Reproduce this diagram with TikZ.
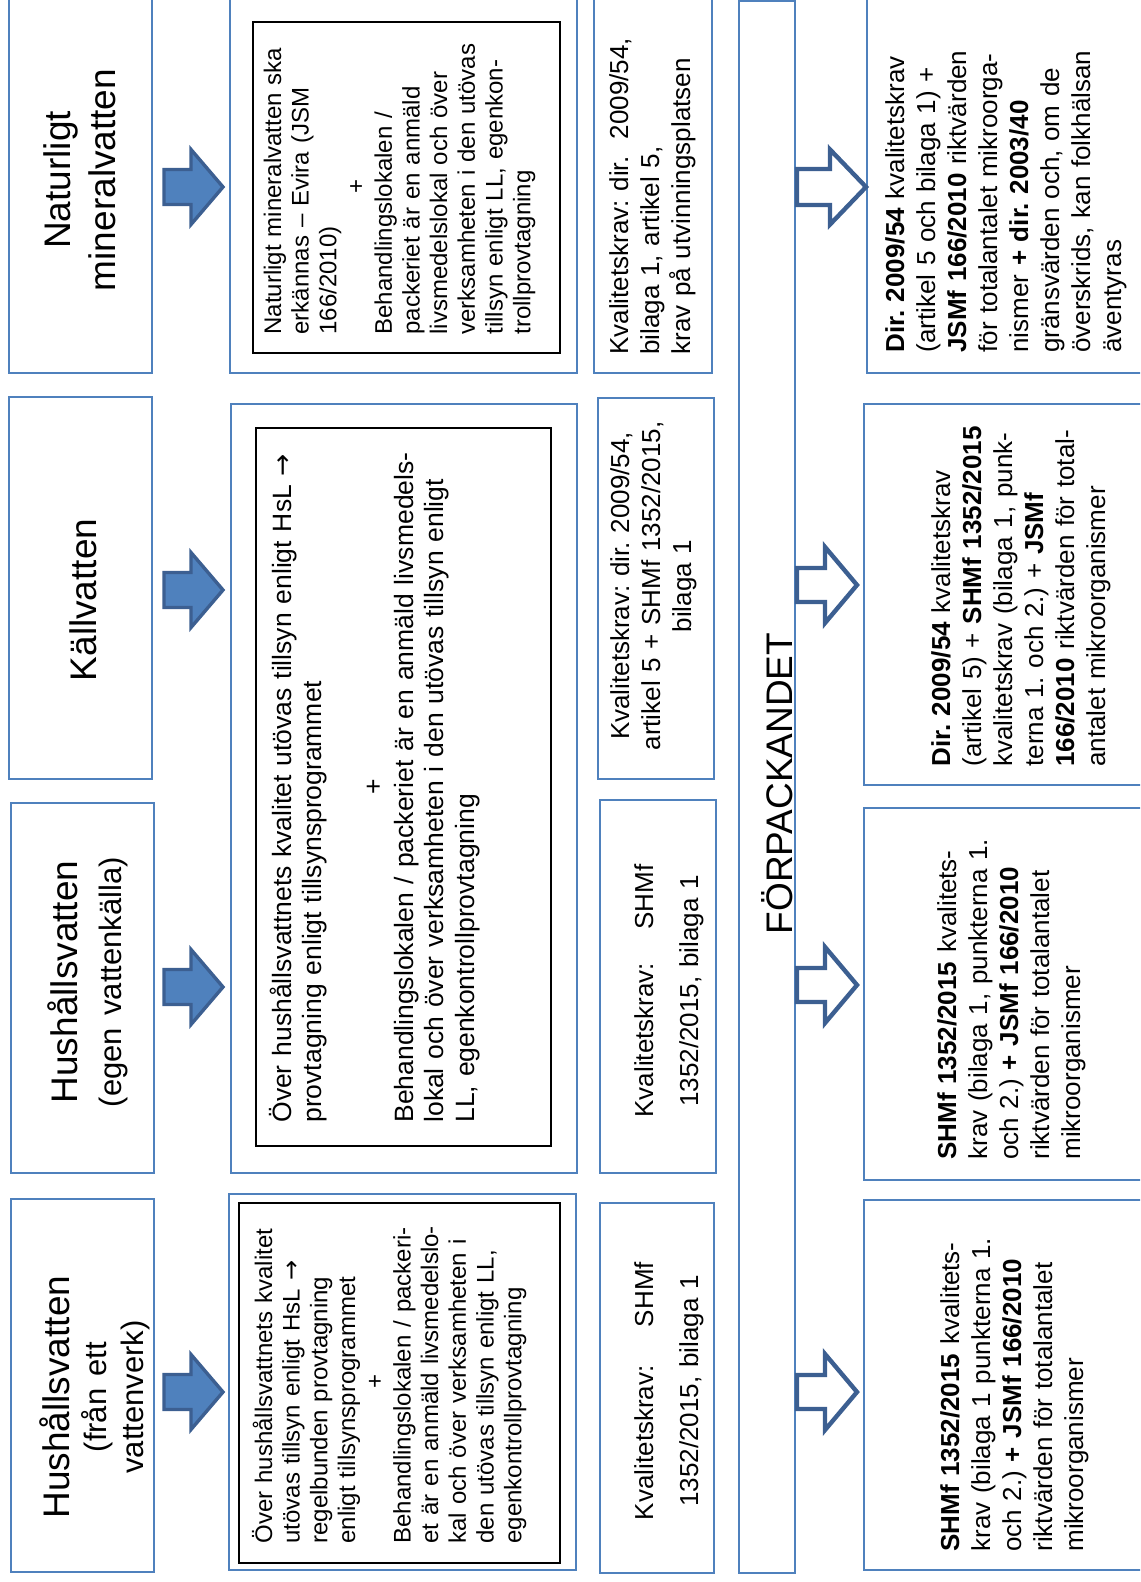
\documentclass[tikz,border=0pt]{standalone}
\usepackage{fontspec}
\setmainfont{Liberation Sans}
\newfontfamily\arrowfont{DejaVu Sans}
\frenchspacing
\definecolor{boxblue}{RGB}{79,129,189}
\definecolor{arrowline}{RGB}{60,95,145}
\newcommand\titlefont{\fontsize{18.5}{18.5}\selectfont}
\newcommand\bodyfont{\fontsize{12}{13.85}\selectfont}
\newcommand\widefont{\fontsize{13.25}{15.25}\selectfont}
\newcommand\reqfont{\fontsize{13}{22.5}\selectfont}
\newcommand\packfont{\fontsize{13}{15.5}\selectfont}
\newcommand\rarr{{\arrowfont →}}
\tikzset{
  bluebox/.style={draw=boxblue, line width=1.4pt},
  blackbox/.style={draw=black, line width=1pt},
  rtext/.style={rotate=90, inner sep=0pt, anchor=base west, align=left},
  ctext/.style={rotate=90, inner sep=0pt, anchor=base, align=center},
  fillarrow/.style={fill=boxblue, draw=arrowline, line width=1.7pt, line join=miter},
  openarrow/.style={fill=white, draw=arrowline, line width=2.2pt, line join=miter}
}
\begin{document}
\begin{tikzpicture}[x=0.5pt, y=-0.5pt]
  \path[use as bounding box] (0,0) rectangle (1140,1582);
  \clip (0,0) rectangle (1140,1582);
  % water type boxes
  \draw[bluebox] (11,1199) rectangle (154,1572);
  \draw[bluebox] (11,803) rectangle (154,1173);
  \draw[bluebox] (9,397) rectangle (152,779);
  \draw[bluebox] (9,-12) rectangle (152,373);
  % supervision boxes
  \draw[bluebox] (229,1194) rectangle (576,1570);
  \draw[bluebox] (231,404) rectangle (577,1173);
  \draw[bluebox] (230,-12) rectangle (577,373);
  \draw[blackbox] (239,1203) rectangle (560,1563);
  \draw[blackbox] (256,428) rectangle (551,1146);
  \draw[blackbox] (253,22) rectangle (560,353);
  % quality requirement boxes
  \draw[bluebox] (600,1203) rectangle (714,1573);
  \draw[bluebox] (600,800) rectangle (716,1173);
  \draw[bluebox] (598,398) rectangle (714,779);
  \draw[bluebox] (594,-12) rectangle (712,373);
  % packaging band
  \draw[bluebox, line width=1.2pt] (739,0.5) rectangle (795,1573);
  % boxes after packaging
  \draw[bluebox] (864,1200) rectangle (1160,1570);
  \draw[bluebox] (864,808) rectangle (1160,1180);
  \draw[bluebox] (864,404) rectangle (1160,785);
  \draw[bluebox] (867,-12) rectangle (1160,373);

  % filled arrows
  \foreach \yc in {187,590,987,1392}
    \draw[fillarrow] (164,\yc-17.5) -- (191,\yc-17.5) -- (191,\yc-37.5) -- (223,\yc)
      -- (191,\yc+37.5) -- (191,\yc+17.5) -- (164,\yc+17.5) -- cycle;
  % open arrows
  \foreach \yc in {585,985,1392}
    \draw[openarrow] (797,\yc-17) -- (825,\yc-17) -- (825,\yc-38) -- (857,\yc)
      -- (825,\yc+38) -- (825,\yc+17) -- (797,\yc+17) -- cycle;
  \draw[openarrow] (797,169) -- (830,169) -- (830,149.5) -- (866,187)
    -- (830,224.5) -- (830,205) -- (797,205) -- cycle;

  % titles
  \node[ctext, text width=170pt, font=\fontsize{18.5}{18.5}\selectfont] (title1) at (69,1397)
    {Hushållsvatten\\ \fontsize{15.5}{18.5}\selectfont (från ett\\ vattenverk)};
  \node[ctext, text width=170pt, font=\fontsize{18.5}{22}\selectfont] (title2) at (77,982)
    {Hushållsvatten\\ \fontsize{15.5}{22}\selectfont (egen vattenkälla)};
  \node[ctext, text width=170pt, font=\titlefont] (title3) at (96,600) {Källvatten};
  \node[ctext, text width=170pt, font=\fontsize{18.5}{22.5}\selectfont] (title4) at (70,180)
    {Naturligt\\ mineralvatten};

  % supervision texts
  \node[rtext, text width=175pt, font=\bodyfont] (sup1) at (272,1544)
    {Över hushållsvattnets kvalitet\\ utövas tillsyn enligt HsL \rarr\\ regelbunden provtagning\\
     enligt tillsynsprogrammet\\ \makebox[162pt]{+}\\ Behandlingslokalen / packeri-\\
     et är en anmäld livsmedelslo-\\ kal och över verksamheten i\\
     den utövas tillsyn enligt LL,\\ egenkontrollprovtagning};
  \node[rtext, text width=360pt, font=\widefont] (sup2) at (291,1123)
    {Över hushållsvattnets kvalitet utövas tillsyn enligt HsL \rarr\\
     provtagning enligt tillsynsprogrammet\\[15.25pt] \makebox[336pt]{+}\\
     Behandlingslokalen / packeriet är en anmäld livsmedels-\\
     lokal och över verksamheten i den utövas tillsyn enligt\\
     LL, egenkontrollprovtagning};
  \node[rtext, text width=160pt, font=\bodyfont] (sup4) at (281,335)
    {Naturligt mineralvatten ska\\ erkännas – Evira (JSM\\ 166/2010)\\ \makebox[148pt]{+}\\
     Behandlingslokalen /\\ packeriet är en anmäld\\ livsmedelslokal och över\\
     verksamheten i den utövas\\ tillsyn enligt LL, egenkon-\\ trollprovtagning};

  % requirement texts
  \node[ctext, text width=131pt, font=\reqfont] (req1) at (653,1391)
    {\makebox[129pt]{Kvalitetskrav:\hfill SHMf}\\ 1352/2015, bilaga 1};
  \node[ctext, text width=131pt, font=\reqfont] (req2) at (653,991)
    {\makebox[126.5pt]{Kvalitetskrav:\hfill SHMf}\\ 1352/2015, bilaga 1};
  \node[ctext, text width=175pt, font=\packfont] (req3) at (629,586)
    {Kvalitetskrav: dir. 2009/54,\\ artikel 5 + SHMf 1352/2015,\\ bilaga 1};
  \node[rtext, text width=175pt, font=\packfont] (req4) at (628,355)
    {Kvalitetskrav: dir.\ \ 2009/54,\\ bilaga 1, artikel 5,\\ krav på utvinningsplatsen};

  % packaging label
  \node[rotate=90, inner sep=0pt, anchor=base, font=\titlefont] (pack) at (792,783.5) {FÖRPACKANDET};

  % texts after packaging
  \node[rtext, text width=185pt, font=\packfont] (after1) at (959,1552)
    {\textbf{SHMf 1352/2015} kvalitets-\\ krav (bilaga 1 punkterna 1.\\
     och 2.) \textbf{+ JSMf 166/2010}\\ riktvärden för totalantalet\\ mikroorganismer};
  \node[rtext, text width=185pt, font=\packfont] (after2) at (956,1160)
    {\textbf{SHMf 1352/2015} kvalitets-\\ krav (bilaga 1, punkterna 1.\\
     och 2.) \textbf{+ JSMf 166/2010}\\ riktvärden för totalantalet\\ mikroorganismer};
  \node[rtext, text width=185pt, font=\packfont] (after3) at (950,767)
    {\textbf{Dir. 2009/54} kvalitetskrav\\ (artikel 5) + \textbf{SHMf 1352/2015}\\
     kvalitetskrav (bilaga 1, punk-\\ terna 1. och 2.) + \textbf{JSMf}\\
     \textbf{166/2010} riktvärden för total-\\ antalet mikroorganismer};
  \node[rtext, text width=185pt, font=\packfont] (after4) at (904,353)
    {\textbf{Dir. 2009/54} kvalitetskrav\\ (artikel 5 och bilaga 1) +\\
     \textbf{JSMf 166/2010} riktvärden\\ för totalantalet mikroorga-\\
     nismer \textbf{+ dir. 2003/40}\\ gränsvärden och, om de\\
     överskrids, kan folkhälsan\\ äventyras};
\end{tikzpicture}
\end{document}
